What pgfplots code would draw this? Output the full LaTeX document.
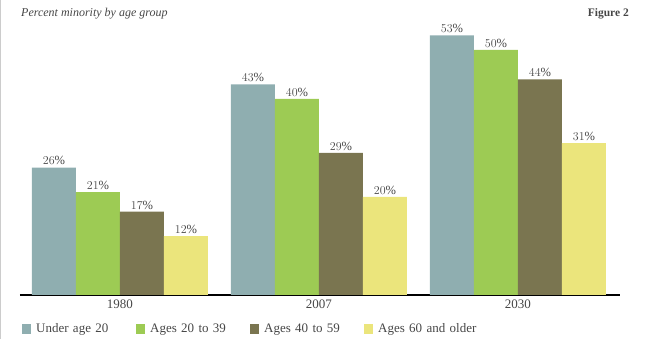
\documentclass[border=0pt]{standalone}
\usepackage{pgfplots}
\pgfplotsset{compat=1.18}
\usepackage{fontspec}
\setmainfont{Liberation Serif}

\definecolor{cTeal}{RGB}{143,174,176}
\definecolor{cGreen}{RGB}{157,203,84}
\definecolor{cOlive}{RGB}{122,117,80}
\definecolor{cYellow}{RGB}{235,229,124}
\definecolor{cText}{RGB}{70,70,70}

\begin{document}
\begin{tikzpicture}[x=1pt,y=1pt]
\begin{axis}[
  scale only axis,
  width=600pt, height=294pt,
  xmin=-0.5025, xmax=2.5126,
  ymin=0, ymax=60,
  ybar=0pt, bar width=44pt,
  axis x line=bottom,
  axis y line=none,
  x axis line style={-, line width=1.3pt},
  xtick={0,1,2},
  xticklabels={1980,2007,2030},
  major tick length=0pt,
  xticklabel style={font=\fontsize{13}{14}\selectfont, text=cText, yshift=-1pt},
  nodes near coords={\pgfmathprintnumber{\pgfplotspointmeta}\%},
  every node near coord/.append style={font=\fontsize{12.5}{14}\selectfont, text=cText, yshift=-1pt},
  legend columns=4,
  legend style={
    at={(axis description cs:0.0033,-0.1156)}, anchor=west,
    draw=none, fill=none, inner sep=0pt,
    nodes={text width=100pt, inner sep=0pt, align=left, font=\fontsize{13}{14}\selectfont, text=cText},
    /tikz/every odd column/.append style={column sep=5pt},
    /tikz/every even column/.append style={column sep=0pt},
  },
  legend image code/.code={\fill[#1,draw=none] (0pt,-5pt) rectangle (9pt,5pt);},
]
\addplot[fill=cTeal, draw=none] coordinates {(0,26) (1,43) (2,53)};
\addplot[fill=cGreen, draw=none] coordinates {(0,21) (1,40) (2,50)};
\addplot[fill=cOlive, draw=none] coordinates {(0,17) (1,29) (2,44)};
\addplot[fill=cYellow, draw=none] coordinates {(0,12) (1,20) (2,31)};
\legend{Under age 20, Ages 20 to 39, Ages 40 to 59, Ages 60 and older}
\coordinate (O) at (rel axis cs:0,0);
\end{axis}
% page frame: 648 x 339 with the axis corner 20 in from the left and 44 up
\pgfresetboundingbox
\path[use as bounding box] ([shift={(-20,-44)}]O) rectangle ([shift={(628,295)}]O);
\draw[black!20, line width=1pt] ([shift={(-19.5,-44)}]O) -- ([shift={(-19.5,295)}]O);
% chart title and figure number
\node[anchor=west, font=\itshape\fontsize{12}{14}\selectfont, text=cText, inner sep=0] at ([shift={(1,281)}]O) {Percent minority by age group};
\node[anchor=east, font=\bfseries\fontsize{11.5}{14}\selectfont, text=cText, inner sep=0] at ([shift={(609,281)}]O) {Figure 2};
\end{tikzpicture}
\end{document}
